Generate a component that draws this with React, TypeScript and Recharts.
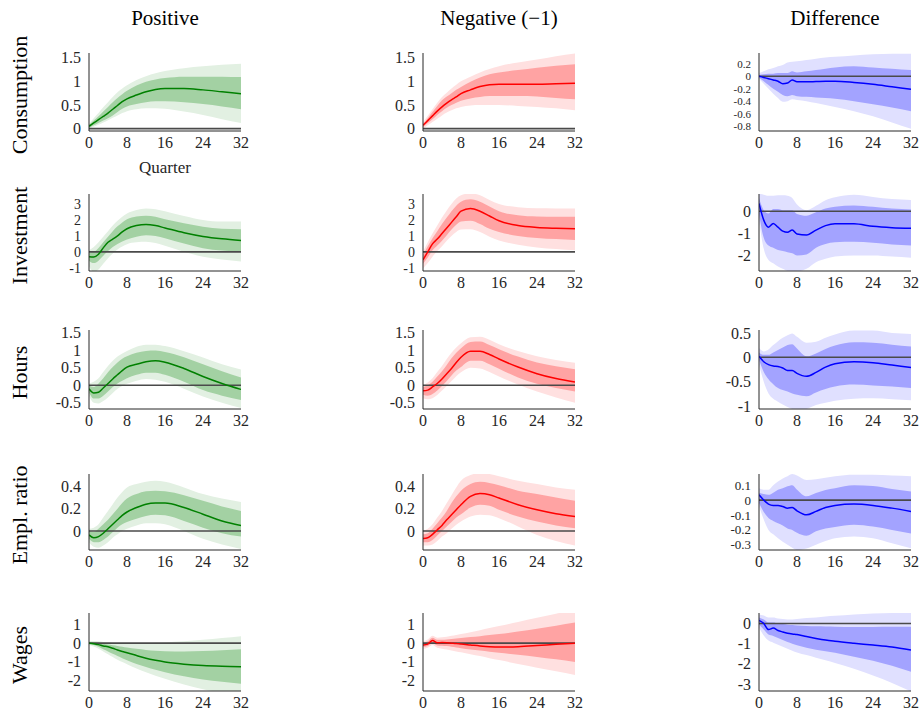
import React from "react";
import { ComposedChart, Area, Line, XAxis, YAxis, ReferenceLine } from "recharts";

// Quarters at which values were read
const quarters = [0, 1, 2, 3, 4, 5, 6, 7, 8, 10, 12, 14, 16, 20, 24, 28, 32];
const xTicks = [0, 8, 16, 24, 32];

const colTitles = ["Positive", "Negative (\u22121)", "Difference"];
const rowTitles = ["Consumption", "Investment", "Hours", "Empl. ratio", "Wages"];

// ---------- Consumption ----------
const consPosMid = [0.05, 0.12, 0.19, 0.26, 0.33, 0.41, 0.49, 0.57, 0.63, 0.71, 0.78, 0.83, 0.85, 0.85, 0.82, 0.78, 0.74];
const consPosLo68 = [0.02, 0.07, 0.12, 0.17, 0.22, 0.28, 0.35, 0.42, 0.47, 0.52, 0.56, 0.58, 0.58, 0.56, 0.52, 0.47, 0.41];
const consPosHi68 = [0.08, 0.17, 0.26, 0.36, 0.46, 0.56, 0.65, 0.73, 0.8, 0.91, 0.99, 1.04, 1.07, 1.1, 1.1, 1.1, 1.09];
const consPosLo90 = [0.0, 0.04, 0.08, 0.13, 0.18, 0.23, 0.28, 0.33, 0.37, 0.41, 0.43, 0.43, 0.42, 0.36, 0.29, 0.2, 0.12];
const consPosHi90 = [0.1, 0.22, 0.33, 0.45, 0.56, 0.67, 0.77, 0.85, 0.92, 1.03, 1.11, 1.17, 1.22, 1.28, 1.32, 1.35, 1.37];

const consNegMid = [0.07, 0.17, 0.27, 0.37, 0.46, 0.54, 0.61, 0.67, 0.74, 0.82, 0.89, 0.93, 0.94, 0.94, 0.94, 0.95, 0.96];
const consNegLo68 = [0.03, 0.12, 0.2, 0.29, 0.37, 0.44, 0.5, 0.55, 0.59, 0.64, 0.67, 0.69, 0.69, 0.69, 0.68, 0.65, 0.62];
const consNegHi68 = [0.1, 0.22, 0.35, 0.48, 0.6, 0.68, 0.75, 0.82, 0.88, 0.99, 1.08, 1.15, 1.19, 1.24, 1.29, 1.33, 1.36];
const consNegLo90 = [0.0, 0.07, 0.14, 0.21, 0.28, 0.34, 0.39, 0.43, 0.46, 0.49, 0.5, 0.5, 0.5, 0.48, 0.46, 0.43, 0.39];
const consNegHi90 = [0.13, 0.27, 0.41, 0.55, 0.67, 0.76, 0.85, 0.93, 1.0, 1.1, 1.19, 1.26, 1.32, 1.4, 1.46, 1.53, 1.59];

const consDifMid = [0.0, -0.02, -0.04, -0.06, -0.08, -0.12, -0.11, -0.06, -0.09, -0.09, -0.085, -0.08, -0.08, -0.1, -0.13, -0.17, -0.21];
const consDifLo68 = [-0.02, -0.08, -0.14, -0.2, -0.25, -0.3, -0.32, -0.3, -0.32, -0.33, -0.34, -0.35, -0.36, -0.4, -0.45, -0.5, -0.56];
const consDifHi68 = [0.02, 0.03, 0.04, 0.04, 0.05, 0.05, 0.05, 0.08, 0.06, 0.08, 0.1, 0.12, 0.14, 0.16, 0.14, 0.12, 0.1];
const consDifLo90 = [-0.04, -0.12, -0.2, -0.28, -0.35, -0.41, -0.4, -0.37, -0.38, -0.4, -0.43, -0.46, -0.49, -0.56, -0.64, -0.74, -0.84];
const consDifHi90 = [0.05, 0.08, 0.11, 0.13, 0.16, 0.18, 0.22, 0.23, 0.24, 0.26, 0.28, 0.3, 0.31, 0.33, 0.35, 0.36, 0.36];

// ---------- Investment ----------
const invPosMid = [-0.3, -0.32, -0.15, 0.25, 0.6, 0.8, 1.0, 1.25, 1.45, 1.65, 1.72, 1.65, 1.5, 1.2, 0.97, 0.82, 0.72];
const invPosLo68 = [-0.55, -0.7, -0.55, -0.25, 0.05, 0.3, 0.5, 0.65, 0.78, 0.95, 1.05, 1.0, 0.85, 0.52, 0.23, 0.08, 0.0];
const invPosHi68 = [-0.05, 0.0, 0.25, 0.6, 0.95, 1.3, 1.6, 1.85, 2.05, 2.22, 2.27, 2.2, 2.05, 1.8, 1.58, 1.45, 1.42];
const invPosLo90 = [-0.9, -1.25, -1.1, -0.75, -0.4, -0.1, 0.15, 0.33, 0.48, 0.6, 0.63, 0.55, 0.38, 0.0, -0.3, -0.48, -0.6];
const invPosHi90 = [0.1, 0.3, 0.6, 0.95, 1.3, 1.65, 1.95, 2.2, 2.4, 2.62, 2.72, 2.68, 2.55, 2.25, 2.0, 1.9, 1.9];

const invNegMid = [-0.5, 0.0, 0.5, 0.8, 1.15, 1.5, 1.85, 2.2, 2.55, 2.72, 2.55, 2.25, 1.95, 1.65, 1.53, 1.48, 1.45];
const invNegLo68 = [-0.75, -0.35, 0.1, 0.4, 0.7, 1.05, 1.4, 1.7, 1.9, 1.95, 1.75, 1.45, 1.25, 1.0, 0.87, 0.8, 0.75];
const invNegHi68 = [-0.2, 0.35, 0.85, 1.3, 1.75, 2.15, 2.55, 2.9, 3.15, 3.3, 3.15, 2.85, 2.55, 2.3, 2.22, 2.2, 2.2];
const invNegLo90 = [-1.05, -0.7, -0.3, 0.05, 0.35, 0.7, 1.0, 1.25, 1.4, 1.42, 1.25, 0.95, 0.72, 0.45, 0.28, 0.18, 0.1];
const invNegHi90 = [0.0, 0.6, 1.15, 1.65, 2.15, 2.6, 3.0, 3.35, 3.55, 3.67, 3.55, 3.25, 3.0, 2.8, 2.73, 2.72, 2.72];

const invDifMid = [0.35, -0.4, -0.72, -0.55, -0.72, -0.9, -0.95, -0.85, -1.03, -1.07, -0.85, -0.65, -0.56, -0.57, -0.68, -0.74, -0.77];
const invDifLo68 = [-0.1, -1.2, -1.55, -1.65, -1.75, -1.8, -1.85, -1.9, -2.0, -1.95, -1.65, -1.48, -1.4, -1.38, -1.42, -1.5, -1.55];
const invDifHi68 = [0.6, 0.05, -0.1, 0.1, 0.1, 0.05, 0.05, 0.05, -0.12, -0.2, -0.05, 0.12, 0.2, 0.26, 0.2, 0.12, 0.08];
const invDifLo90 = [-0.4, -1.7, -2.2, -2.35, -2.5, -2.6, -2.7, -2.72, -2.72, -2.6, -2.3, -2.15, -2.05, -2.0, -2.0, -2.05, -2.1];
const invDifHi90 = [0.8, 0.75, 0.7, 0.7, 0.72, 0.72, 0.7, 0.6, 0.3, 0.05, 0.25, 0.5, 0.63, 0.75, 0.65, 0.55, 0.51];

// ---------- Hours ----------
const hrsPosMid = [-0.1, -0.22, -0.2, -0.08, 0.05, 0.18, 0.3, 0.42, 0.52, 0.6, 0.67, 0.7, 0.66, 0.48, 0.25, 0.05, -0.12];
const hrsPosLo68 = [-0.2, -0.38, -0.38, -0.3, -0.18, -0.05, 0.05, 0.13, 0.2, 0.3, 0.36, 0.36, 0.3, 0.1, -0.14, -0.3, -0.42];
const hrsPosHi68 = [0.0, -0.05, 0.05, 0.2, 0.37, 0.52, 0.65, 0.76, 0.83, 0.93, 0.98, 0.99, 0.95, 0.8, 0.6, 0.4, 0.22];
const hrsPosLo90 = [-0.3, -0.5, -0.52, -0.45, -0.35, -0.22, -0.1, -0.02, 0.04, 0.13, 0.18, 0.16, 0.1, -0.1, -0.32, -0.5, -0.65];
const hrsPosHi90 = [0.05, 0.1, 0.2, 0.38, 0.55, 0.7, 0.82, 0.91, 0.98, 1.1, 1.16, 1.16, 1.12, 0.97, 0.79, 0.6, 0.45];

const hrsNegMid = [-0.16, -0.14, -0.05, 0.05, 0.18, 0.33, 0.48, 0.65, 0.8, 0.97, 0.97, 0.88, 0.75, 0.52, 0.33, 0.19, 0.09];
const hrsNegLo68 = [-0.27, -0.3, -0.25, -0.15, -0.02, 0.12, 0.28, 0.42, 0.52, 0.7, 0.7, 0.6, 0.47, 0.22, 0.04, -0.08, -0.18];
const hrsNegHi68 = [-0.05, 0.0, 0.1, 0.25, 0.4, 0.58, 0.77, 0.93, 1.06, 1.24, 1.25, 1.15, 1.03, 0.82, 0.65, 0.54, 0.46];
const hrsNegLo90 = [-0.37, -0.4, -0.37, -0.28, -0.15, -0.02, 0.12, 0.26, 0.37, 0.5, 0.48, 0.38, 0.25, 0.02, -0.18, -0.35, -0.5];
const hrsNegHi90 = [0.0, 0.08, 0.2, 0.38, 0.55, 0.75, 0.93, 1.08, 1.2, 1.37, 1.39, 1.3, 1.17, 0.98, 0.83, 0.72, 0.64];

const hrsDifMid = [0.02, -0.09, -0.15, -0.18, -0.19, -0.22, -0.27, -0.27, -0.33, -0.39, -0.31, -0.2, -0.13, -0.09, -0.11, -0.16, -0.21];
const hrsDifLo68 = [-0.05, -0.3, -0.45, -0.55, -0.63, -0.67, -0.7, -0.74, -0.77, -0.8, -0.72, -0.65, -0.6, -0.56, -0.58, -0.6, -0.63];
const hrsDifHi68 = [0.1, 0.05, 0.05, 0.1, 0.15, 0.2, 0.25, 0.27, 0.18, 0.02, 0.08, 0.17, 0.24, 0.31, 0.3, 0.26, 0.22];
const hrsDifLo90 = [-0.15, -0.5, -0.74, -0.85, -0.91, -0.97, -1.02, -1.06, -1.09, -1.06, -0.98, -0.93, -0.89, -0.85, -0.84, -0.86, -0.88];
const hrsDifHi90 = [0.19, 0.12, 0.16, 0.25, 0.33, 0.4, 0.45, 0.49, 0.42, 0.3, 0.32, 0.4, 0.47, 0.55, 0.55, 0.5, 0.48];

// ---------- Employment ratio ----------
const empPosMid = [-0.035, -0.06, -0.05, -0.02, 0.02, 0.06, 0.1, 0.14, 0.17, 0.21, 0.24, 0.25, 0.25, 0.21, 0.15, 0.09, 0.05];
const empPosLo68 = [-0.07, -0.1, -0.1, -0.08, -0.05, -0.01, 0.03, 0.06, 0.08, 0.11, 0.135, 0.145, 0.14, 0.09, 0.03, -0.02, -0.05];
const empPosHi68 = [0.0, -0.01, 0.02, 0.06, 0.1, 0.15, 0.2, 0.25, 0.29, 0.33, 0.355, 0.36, 0.355, 0.32, 0.27, 0.22, 0.18];
const empPosLo90 = [-0.1, -0.14, -0.15, -0.13, -0.1, -0.06, -0.03, 0.0, 0.02, 0.05, 0.07, 0.07, 0.06, 0.0, -0.07, -0.12, -0.16];
const empPosHi90 = [0.02, 0.03, 0.06, 0.12, 0.18, 0.24, 0.3, 0.35, 0.39, 0.42, 0.44, 0.45, 0.44, 0.39, 0.33, 0.29, 0.26];

const empNegMid = [-0.067, -0.06, -0.03, 0.01, 0.05, 0.1, 0.145, 0.19, 0.235, 0.31, 0.335, 0.325, 0.295, 0.235, 0.19, 0.155, 0.13];
const empNegLo68 = [-0.1, -0.1, -0.08, -0.04, 0.0, 0.04, 0.08, 0.12, 0.15, 0.21, 0.235, 0.225, 0.19, 0.13, 0.085, 0.05, 0.025];
const empNegHi68 = [-0.03, -0.02, 0.02, 0.07, 0.12, 0.18, 0.25, 0.31, 0.36, 0.42, 0.44, 0.43, 0.41, 0.36, 0.33, 0.3, 0.27];
const empNegLo90 = [-0.13, -0.13, -0.12, -0.09, -0.05, -0.02, 0.02, 0.055, 0.085, 0.13, 0.145, 0.14, 0.115, 0.04, -0.035, -0.09, -0.13];
const empNegHi90 = [0.0, 0.02, 0.06, 0.12, 0.18, 0.25, 0.32, 0.39, 0.45, 0.5, 0.52, 0.51, 0.49, 0.45, 0.42, 0.39, 0.37];

const empDifMid = [0.035, 0.0, -0.027, -0.036, -0.036, -0.043, -0.054, -0.05, -0.072, -0.099, -0.076, -0.05, -0.036, -0.027, -0.036, -0.054, -0.076];
const empDifLo68 = [-0.02, -0.08, -0.12, -0.14, -0.155, -0.17, -0.19, -0.2, -0.22, -0.24, -0.21, -0.19, -0.18, -0.166, -0.178, -0.2, -0.225];
const empDifHi68 = [0.05, 0.04, 0.035, 0.05, 0.07, 0.08, 0.092, 0.1, 0.07, 0.025, 0.047, 0.068, 0.08, 0.1, 0.095, 0.075, 0.058];
const empDifLo90 = [-0.04, -0.13, -0.2, -0.23, -0.256, -0.28, -0.3, -0.32, -0.335, -0.325, -0.3, -0.275, -0.256, -0.245, -0.256, -0.29, -0.324];
const empDifHi90 = [0.08, 0.07, 0.07, 0.1, 0.125, 0.145, 0.16, 0.175, 0.165, 0.135, 0.14, 0.15, 0.16, 0.17, 0.17, 0.165, 0.16];

// ---------- Wages ----------
const wagPosMid = [0.0, -0.03, -0.08, -0.15, -0.2, -0.28, -0.37, -0.45, -0.52, -0.67, -0.82, -0.93, -1.02, -1.14, -1.22, -1.26, -1.28];
const wagPosLo68 = [-0.05, -0.1, -0.2, -0.33, -0.45, -0.58, -0.7, -0.82, -0.93, -1.13, -1.3, -1.45, -1.58, -1.8, -1.97, -2.1, -2.2];
const wagPosHi68 = [0.05, 0.05, 0.02, -0.03, -0.07, -0.11, -0.15, -0.2, -0.24, -0.31, -0.37, -0.41, -0.44, -0.45, -0.42, -0.38, -0.33];
const wagPosLo90 = [-0.1, -0.18, -0.3, -0.45, -0.6, -0.75, -0.9, -1.03, -1.15, -1.38, -1.58, -1.77, -1.94, -2.25, -2.5, -2.7, -2.85];
const wagPosHi90 = [0.1, 0.12, 0.1, 0.06, 0.03, 0.01, 0.0, 0.0, 0.0, 0.0, 0.0, 0.02, 0.04, 0.1, 0.18, 0.28, 0.38];

const wagNegMid = [-0.1, -0.05, 0.15, 0.02, 0.03, 0.02, 0.0, -0.02, -0.05, -0.1, -0.15, -0.19, -0.21, -0.19, -0.13, -0.06, 0.0];
const wagNegLo68 = [-0.2, -0.15, 0.0, -0.12, -0.14, -0.16, -0.2, -0.23, -0.27, -0.34, -0.4, -0.46, -0.52, -0.63, -0.75, -0.88, -1.02];
const wagNegHi68 = [0.0, 0.1, 0.3, 0.18, 0.18, 0.2, 0.22, 0.25, 0.28, 0.33, 0.38, 0.44, 0.5, 0.63, 0.78, 0.95, 1.12];
const wagNegLo90 = [-0.3, -0.25, -0.1, -0.25, -0.3, -0.35, -0.4, -0.45, -0.5, -0.6, -0.7, -0.82, -0.92, -1.13, -1.33, -1.53, -1.73];
const wagNegHi90 = [0.1, 0.2, 0.4, 0.3, 0.32, 0.35, 0.4, 0.45, 0.5, 0.6, 0.7, 0.82, 0.93, 1.15, 1.38, 1.6, 1.8];

const wagDifMid = [0.15, 0.0, -0.3, -0.23, -0.35, -0.42, -0.48, -0.52, -0.55, -0.65, -0.74, -0.82, -0.88, -0.98, -1.07, -1.17, -1.32];
const wagDifLo68 = [-0.05, -0.3, -0.55, -0.62, -0.72, -0.82, -0.92, -1.0, -1.08, -1.2, -1.3, -1.38, -1.45, -1.65, -1.85, -2.1, -2.4];
const wagDifHi68 = [0.3, 0.2, 0.05, 0.05, 0.0, -0.03, -0.06, -0.08, -0.1, -0.12, -0.14, -0.15, -0.16, -0.17, -0.17, -0.16, -0.16];
const wagDifLo90 = [-0.2, -0.6, -0.85, -0.95, -1.05, -1.15, -1.25, -1.35, -1.44, -1.57, -1.7, -1.83, -1.96, -2.25, -2.58, -2.95, -3.37];
const wagDifHi90 = [0.45, 0.4, 0.3, 0.3, 0.25, 0.22, 0.2, 0.2, 0.22, 0.27, 0.3, 0.35, 0.38, 0.45, 0.5, 0.52, 0.55];

// ---------- Axis ticks and ranges ----------
const consTicks = [0, 0.5, 1, 1.5];
const invTicks = [-1, 0, 1, 2, 3];
const hrsTicks = [-0.5, 0, 0.5, 1, 1.5];
const empTicks = [0, 0.2, 0.4];
const wagTicks = [-2, -1, 0, 1];
const consDifTicks = [-0.8, -0.6, -0.4, -0.2, 0, 0.2];
const invDifTicks = [-2, -1, 0];
const hrsDifTicks = [-1, -0.5, 0, 0.5];
const empDifTicks = [-0.3, -0.2, -0.1, 0, 0.1];
const wagDifTicks = [-3, -2, -1, 0];

const consRange = [-0.05, 1.6];
const invRange = [-1.2, 3.63];
const hrsRange = [-0.68, 1.58];
const empRange = [-0.17, 0.51];
const wagRange = [-2.6, 1.64];
const consDifRange = [-0.875, 0.37];
const invDifRange = [-2.7, 0.78];
const hrsDifRange = [-1.06, 0.56];
const empDifRange = [-0.335, 0.175];
const wagDifRange = [-3.35, 0.52];

// ---------- Colours per column ----------
const lineColors = ["#008000", "#ff0000", "#0000ff"];
const innerColors = ["#a3d1a3", "#ffa3a3", "#a3a3ff"];
const outerColors = ["#e2f0e2", "#ffe0e0", "#e0e0ff"];

const FONT = "'Liberation Serif', 'Times New Roman', serif";
const AXIS = "#262626";

const colLeft = [89, 423, 759];
const plotW = 152;
const rowTop = [53, 194, 330, 474, 613];
const rowBottom = [131, 271, 409, 550, 691];

type Series = number[];
interface PanelDef {
  mid: Series; lo68: Series; hi68: Series; lo90: Series; hi90: Series;
  range: number[]; ticks: number[];
}

const grid: PanelDef[][] = [
  [
    { mid: consPosMid, lo68: consPosLo68, hi68: consPosHi68, lo90: consPosLo90, hi90: consPosHi90, range: consRange, ticks: consTicks },
    { mid: consNegMid, lo68: consNegLo68, hi68: consNegHi68, lo90: consNegLo90, hi90: consNegHi90, range: consRange, ticks: consTicks },
    { mid: consDifMid, lo68: consDifLo68, hi68: consDifHi68, lo90: consDifLo90, hi90: consDifHi90, range: consDifRange, ticks: consDifTicks },
  ],
  [
    { mid: invPosMid, lo68: invPosLo68, hi68: invPosHi68, lo90: invPosLo90, hi90: invPosHi90, range: invRange, ticks: invTicks },
    { mid: invNegMid, lo68: invNegLo68, hi68: invNegHi68, lo90: invNegLo90, hi90: invNegHi90, range: invRange, ticks: invTicks },
    { mid: invDifMid, lo68: invDifLo68, hi68: invDifHi68, lo90: invDifLo90, hi90: invDifHi90, range: invDifRange, ticks: invDifTicks },
  ],
  [
    { mid: hrsPosMid, lo68: hrsPosLo68, hi68: hrsPosHi68, lo90: hrsPosLo90, hi90: hrsPosHi90, range: hrsRange, ticks: hrsTicks },
    { mid: hrsNegMid, lo68: hrsNegLo68, hi68: hrsNegHi68, lo90: hrsNegLo90, hi90: hrsNegHi90, range: hrsRange, ticks: hrsTicks },
    { mid: hrsDifMid, lo68: hrsDifLo68, hi68: hrsDifHi68, lo90: hrsDifLo90, hi90: hrsDifHi90, range: hrsDifRange, ticks: hrsDifTicks },
  ],
  [
    { mid: empPosMid, lo68: empPosLo68, hi68: empPosHi68, lo90: empPosLo90, hi90: empPosHi90, range: empRange, ticks: empTicks },
    { mid: empNegMid, lo68: empNegLo68, hi68: empNegHi68, lo90: empNegLo90, hi90: empNegHi90, range: empRange, ticks: empTicks },
    { mid: empDifMid, lo68: empDifLo68, hi68: empDifHi68, lo90: empDifLo90, hi90: empDifHi90, range: empDifRange, ticks: empDifTicks },
  ],
  [
    { mid: wagPosMid, lo68: wagPosLo68, hi68: wagPosHi68, lo90: wagPosLo90, hi90: wagPosHi90, range: wagRange, ticks: wagTicks },
    { mid: wagNegMid, lo68: wagNegLo68, hi68: wagNegHi68, lo90: wagNegLo90, hi90: wagNegHi90, range: wagRange, ticks: wagTicks },
    { mid: wagDifMid, lo68: wagDifLo68, hi68: wagDifHi68, lo90: wagDifLo90, hi90: wagDifHi90, range: wagDifRange, ticks: wagDifTicks },
  ],
];

const Y_W = 50;
const M_TOP = 5;
const M_RIGHT = 8;
const X_H = 30;

function Panel({ def, row, col }: { def: PanelDef; row: number; col: number }) {
  const data = quarters.map((q, i) => ({
    q,
    mid: def.mid[i],
    band68: [def.lo68[i], def.hi68[i]],
    band90: [def.lo90[i], def.hi90[i]],
  }));
  const plotH = rowBottom[row] - rowTop[row];
  const w = Y_W + plotW + M_RIGHT;
  const h = M_TOP + plotH + X_H;
  // shrink tick labels only where the ticks are packed too tightly to fit
  const step = def.ticks[1] - def.ticks[0];
  const gapPx = (step / (def.range[1] - def.range[0])) * plotH;
  const yFont = Math.min(16, Math.floor(gapPx) - 1);
  const tickStyle = { fill: AXIS, fontSize: 16, fontFamily: FONT };
  const yTickStyle = { fill: AXIS, fontSize: yFont, fontFamily: FONT };
  return (
    <div style={{ position: "absolute", left: colLeft[col] - Y_W, top: rowTop[row] - M_TOP, width: w, height: h }}>
      <ComposedChart width={w} height={h} data={data} margin={{ top: M_TOP, right: M_RIGHT, left: 0, bottom: 0 }}>
        <XAxis
          dataKey="q"
          type="number"
          domain={[0, 32]}
          ticks={xTicks}
          allowDataOverflow
          interval={0}
          height={X_H}
          tickLine={false}
          tickSize={6}
          tickMargin={0}
          axisLine={{ stroke: AXIS, strokeWidth: 1 }}
          tick={tickStyle}
        />
        <YAxis
          type="number"
          domain={def.range}
          ticks={def.ticks}
          allowDataOverflow
          interval={0}
          width={Y_W}
          tickLine={false}
          tickSize={6}
          tickMargin={2}
          axisLine={{ stroke: AXIS, strokeWidth: 1 }}
          tick={yTickStyle}
        />
        <Area dataKey="band90" type="monotoneX" stroke="none" fill={outerColors[col]} fillOpacity={1} isAnimationActive={false} />
        <Area dataKey="band68" type="monotoneX" stroke="none" fill={innerColors[col]} fillOpacity={1} isAnimationActive={false} />
        <ReferenceLine y={0} stroke="#4a4a4a" strokeWidth={1.6} />
        <Line dataKey="mid" type="monotoneX" stroke={lineColors[col]} strokeWidth={1.5} dot={false} activeDot={false} isAnimationActive={false} />
      </ComposedChart>
    </div>
  );
}

export default function App() {
  const centers = colLeft.map((l) => l + plotW / 2);
  return (
    <div style={{ position: "absolute", left: 0, top: 0, width: 920, height: 718, background: "#fff", overflow: "hidden" }}>
      {grid.map((rowDefs, r) => rowDefs.map((def, c) => <Panel key={`${r}-${c}`} def={def} row={r} col={c} />))}
      <svg width={920} height={718} style={{ position: "absolute", left: 0, top: 0, pointerEvents: "none" }}>
        {colTitles.map((t, c) => (
          <text key={t} x={centers[c]} y={25} textAnchor="middle" fontFamily={FONT} fontSize={21} fill="#000">
            {t}
          </text>
        ))}
        {rowTitles.map((t, r) => {
          const cy = (rowTop[r] + rowBottom[r]) / 2 + 3;
          return (
            <text key={t} x={27} y={cy} transform={`rotate(-90 27 ${cy})`} textAnchor="middle" fontFamily={FONT} fontSize={22} fill="#000">
              {t}
            </text>
          );
        })}
        <text x={centers[0]} y={173} textAnchor="middle" fontFamily={FONT} fontSize={17} fill={AXIS}>
          Quarter
        </text>
      </svg>
    </div>
  );
}
